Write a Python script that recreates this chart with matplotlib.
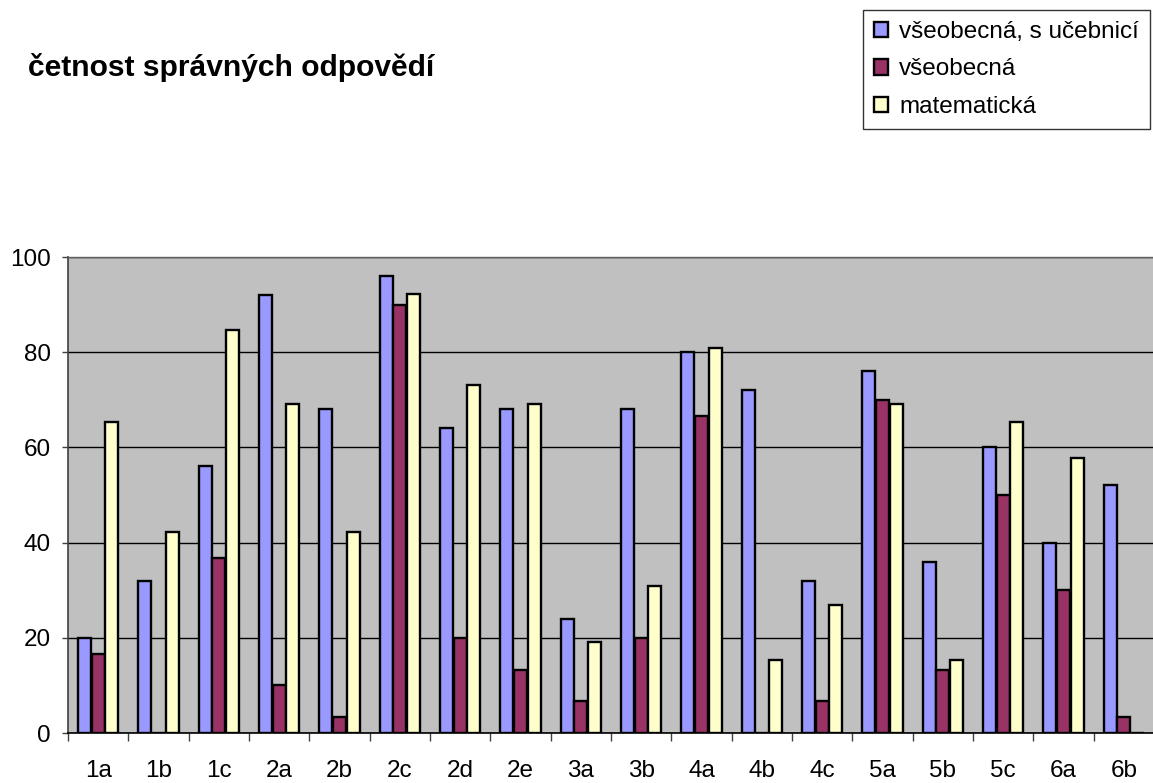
import numpy as np
import matplotlib.pyplot as plt
from matplotlib.ticker import FixedLocator

plt.rcParams['font.family'] = ['Liberation Sans', 'DejaVu Sans']

# úlohy testu
ulohy = ['1a', '1b', '1c', '2a', '2b', '2c', '2d', '2e', '3a', '3b',
         '4a', '4b', '4c', '5a', '5b', '5c', '6a', '6b']

# četnost správných odpovědí v procentech
vseob_ucebnice = [20, 32, 56, 92, 68, 96, 64, 68, 24, 68,
                  80, 72, 32, 76, 36, 60, 40, 52]
vseob = [16.7, 0, 36.7, 10, 3.3, 90, 20, 13.3, 6.7, 20,
         66.7, 0, 6.7, 70, 13.3, 50, 30, 3.3]
matem = [65.4, 42.3, 84.6, 69.2, 42.3, 92.3, 73.1, 69.2, 19.2, 30.8,
         80.8, 15.4, 26.9, 69.2, 15.4, 65.4, 57.7, 0]

nazvy = ['všeobecná, s učebnicí', 'všeobecná', 'matematická']
barvy = ['#9999FF', '#993366', '#FFFFCC']

W, H = 1153, 783
fig = plt.figure(figsize=(W / 100, H / 100), dpi=100)
ax = fig.add_axes([68 / W, (H - 733) / H, (1154 - 68) / W, (733 - 257) / H])
ax.set_facecolor('#C0C0C0')

x = np.arange(len(ulohy))
sirka = 0.215
krok = 0.229
sloupce = []
for i, (hodnoty, nazev, barva) in enumerate(zip([vseob_ucebnice, vseob, matem], nazvy, barvy)):
    b = ax.bar(x + (i - 1) * krok, hodnoty, width=sirka, color=barva,
               edgecolor='black', linewidth=1.7, label=nazev, zorder=3)
    sloupce.append(b)

ax.set_xlim(-0.5, len(ulohy) - 0.5)
ax.set_ylim(0, 100)
ax.set_yticks([0, 20, 40, 60, 80, 100])
ax.yaxis.grid(True, color='black', linewidth=1.0, zorder=1)
ax.set_axisbelow(True)

ax.set_xticks(x)
ax.set_xticklabels(ulohy)
ax.xaxis.set_minor_locator(FixedLocator(np.arange(-0.5, len(ulohy), 1.0)))
ax.tick_params(axis='x', which='major', length=0, pad=19.5, labelsize=17.5)
ax.tick_params(axis='x', which='minor', length=6, width=1.0, color='#404040', direction='out')
ax.tick_params(axis='y', length=4.5, width=1.0, color='#404040', pad=8, labelsize=17.5)

for strana in ['left', 'bottom']:
    ax.spines[strana].set_color('#404040')
    ax.spines[strana].set_linewidth(1.2)
ax.spines['bottom'].set_color('black')
ax.spines['right'].set_visible(False)
ax.spines['top'].set_color('#606060')
ax.spines['top'].set_linewidth(1.0)

fig.text(28 / W, 1 - 76 / H, 'četnost správných odpovědí', fontsize=21.6,
         fontweight='bold', ha='left', va='baseline')

leg = fig.legend(handles=sloupce, labels=nazvy, loc='upper right',
                 bbox_to_anchor=(1150 / W, 1 - 10 / H), fontsize=17.5,
                 frameon=True, fancybox=False, edgecolor='black',
                 handlelength=0.6, handleheight=0.6, handletextpad=0.45,
                 labelspacing=0.64, borderpad=0.45, borderaxespad=0)
leg.get_frame().set_linewidth(1.0)

fig.savefig('out.png', dpi=100)
